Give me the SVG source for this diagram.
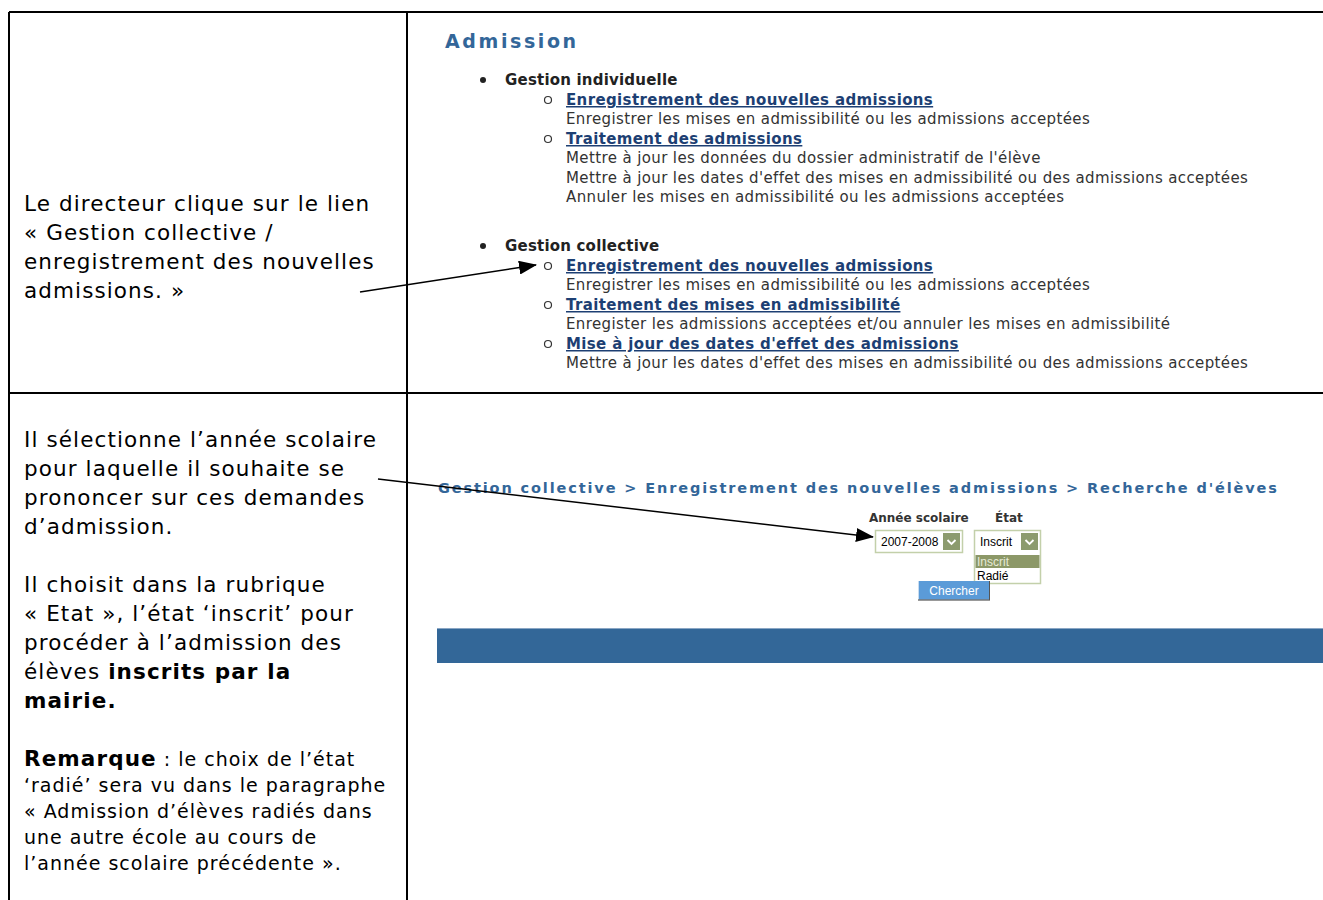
<svg xmlns="http://www.w3.org/2000/svg" width="1323" height="900" viewBox="0 0 1323 900">
<style>
.left{font-family:"DejaVu Sans",Verdana,sans-serif;font-size:21.5px;letter-spacing:1.1px;fill:#000}
.lsmall{font-family:"DejaVu Sans",Verdana,sans-serif;font-size:19px;letter-spacing:1px;fill:#000}
.web{font-family:"DejaVu Sans",Verdana,sans-serif;font-size:15px;letter-spacing:0.38px;fill:#333}
.head{font-family:"DejaVu Sans",Verdana,sans-serif;font-weight:bold;font-size:15px;letter-spacing:0.2px;fill:#222}
.link{font-family:"DejaVu Sans",Verdana,sans-serif;font-weight:bold;font-size:15px;letter-spacing:0.37px;fill:#1d3f73;text-decoration:underline}
.title{font-family:"DejaVu Sans",Verdana,sans-serif;font-weight:bold;fill:#336699}
.lbl{font-family:"DejaVu Sans",Verdana,sans-serif;font-weight:bold;font-size:12px;fill:#333}
.ctl{font-family:"Liberation Sans",Arial,sans-serif;font-size:12px;fill:#000}
.grid{stroke:#000;stroke-width:2;fill:none}
.conn{stroke:#000;stroke-width:1.5;fill:none}
</style>
<defs>
<marker id="ah2" markerWidth="18" markerHeight="14" refX="17" refY="7" orient="auto" markerUnits="userSpaceOnUse" viewBox="0 0 18 14">
<path d="M0,0 L18,7 L0,14 Z" fill="#000"/>
</marker>
</defs>
<rect width="1323" height="900" fill="#fff"/>
<g id="table">
<line class="grid" x1="9" y1="12" x2="1323" y2="12"/>
<line class="grid" x1="9" y1="12" x2="9" y2="900"/>
<line class="grid" x1="407" y1="12" x2="407" y2="900"/>
<line class="grid" x1="9" y1="393" x2="1323" y2="393"/>
</g>
<g id="text-step1">
<text class="left" x="24" y="211">Le directeur clique sur le lien</text>
<text class="left" x="24" y="240">« Gestion collective /</text>
<text class="left" x="24" y="269">enregistrement des nouvelles</text>
<text class="left" x="24" y="298">admissions. »</text>
</g>
<g id="text-step2">
<text class="left" x="24" y="447">Il sélectionne l’année scolaire</text>
<text class="left" x="24" y="476">pour laquelle il souhaite se</text>
<text class="left" x="24" y="505">prononcer sur ces demandes</text>
<text class="left" x="24" y="534">d’admission.</text>
<text class="left" x="24" y="592">Il choisit dans la rubrique</text>
<text class="left" x="24" y="621">« Etat », l’état ‘inscrit’ pour</text>
<text class="left" x="24" y="650">procéder à l’admission des</text>
<text class="left" x="24" y="679">élèves <tspan font-weight="bold">inscrits par la</tspan></text>
<text class="left" x="24" y="708" font-weight="bold">mairie.</text>
<text class="lsmall" x="24" y="766"><tspan font-weight="bold" font-size="21.5px" letter-spacing="1.1px">Remarque</tspan> : le choix de l’état</text>
<text class="lsmall" x="24" y="792">‘radié’ sera vu dans le paragraphe</text>
<text class="lsmall" x="24" y="818">« Admission d’élèves radiés dans</text>
<text class="lsmall" x="24" y="844">une autre école au cours de</text>
<text class="lsmall" x="24" y="870">l’année scolaire précédente ».</text>
</g>
<g id="menu">
<text class="title" x="445" y="48" font-size="19px" letter-spacing="2.6">Admission</text>
<circle cx="483" cy="80" r="3" fill="#222"/>
<text class="head" x="505" y="85">Gestion individuelle</text>
<circle cx="548" cy="100" r="3.5" fill="none" stroke="#333" stroke-width="1.2"/>
<text class="link" x="566" y="105">Enregistrement des nouvelles admissions</text>
<text class="web" x="566" y="124">Enregistrer les mises en admissibilité ou les admissions acceptées</text>
<circle cx="548" cy="139" r="3.5" fill="none" stroke="#333" stroke-width="1.2"/>
<text class="link" x="566" y="144">Traitement des admissions</text>
<text class="web" x="566" y="163">Mettre à jour les données du dossier administratif de l'élève</text>
<text class="web" x="566" y="183">Mettre à jour les dates d'effet des mises en admissibilité ou des admissions acceptées</text>
<text class="web" x="566" y="202">Annuler les mises en admissibilité ou les admissions acceptées</text>
<circle cx="483" cy="246" r="3" fill="#222"/>
<text class="head" x="505" y="251">Gestion collective</text>
<circle cx="548" cy="266" r="3.5" fill="none" stroke="#333" stroke-width="1.2"/>
<text class="link" x="566" y="271">Enregistrement des nouvelles admissions</text>
<text class="web" x="566" y="290">Enregistrer les mises en admissibilité ou les admissions acceptées</text>
<circle cx="548" cy="305" r="3.5" fill="none" stroke="#333" stroke-width="1.2"/>
<text class="link" x="566" y="310">Traitement des mises en admissibilité</text>
<text class="web" x="566" y="329">Enregister les admissions acceptées et/ou annuler les mises en admissibilité</text>
<circle cx="548" cy="344" r="3.5" fill="none" stroke="#333" stroke-width="1.2"/>
<text class="link" x="566" y="349">Mise à jour des dates d'effet des admissions</text>
<text class="web" x="566" y="368">Mettre à jour les dates d'effet des mises en admissibilité ou des admissions acceptées</text>
</g>
<g id="search-form">
<text class="title" x="438" y="493" font-size="14.5px" letter-spacing="1.87">Gestion collective &gt; Enregistrement des nouvelles admissions &gt; Recherche d'élèves</text>
<text class="lbl" x="869" y="522">Année scolaire</text>
<text class="lbl" x="995" y="522">État</text>
<rect x="875.5" y="530.5" width="87" height="22" fill="#fff" stroke="#c3d0aa" stroke-width="1.5"/>
<text class="ctl" x="881" y="546">2007-2008</text>
<rect x="943" y="533" width="17" height="17" fill="#8c9b6e"/>
<path d="M947.5,540 L951.5,544 L955.5,540" fill="none" stroke="#fff" stroke-width="1.8"/>
<rect x="974.5" y="530.5" width="66" height="53" fill="#fff" stroke="#c3d0aa" stroke-width="1.5"/>
<text class="ctl" x="980" y="546">Inscrit</text>
<rect x="1021" y="533" width="17" height="17" fill="#8c9b6e"/>
<path d="M1025.5,540 L1029.5,544 L1033.5,540" fill="none" stroke="#fff" stroke-width="1.8"/>
<rect x="975.5" y="555" width="64" height="13" fill="#8c9868"/>
<text class="ctl" x="977" y="566" style="fill:#e6ead6">Inscrit</text>
<text class="ctl" x="977" y="580">Radié</text>
<rect x="918" y="581" width="72" height="19" fill="#5b9bd8"/>
<line x1="918.5" y1="581" x2="918.5" y2="600" stroke="#c8dcf0" stroke-width="1"/>
<line x1="918" y1="600" x2="990" y2="600" stroke="#777" stroke-width="1.5"/>
<line x1="989.5" y1="581" x2="989.5" y2="600" stroke="#555" stroke-width="1"/>
<text class="ctl" x="954" y="595" text-anchor="middle" style="fill:#fff">Chercher</text>
</g>
<g id="banner">
<rect x="437" y="628" width="886" height="35" fill="#336798"/>
<line x1="437" y1="628.5" x2="1323" y2="628.5" stroke="#8aa6c4" stroke-width="1"/>
</g>
<g id="connectors">
<line class="conn" x1="360" y1="292" x2="536" y2="265" marker-end="url(#ah2)"/>
<line class="conn" x1="378" y1="479" x2="873" y2="537" marker-end="url(#ah2)"/>
</g>
</svg>
